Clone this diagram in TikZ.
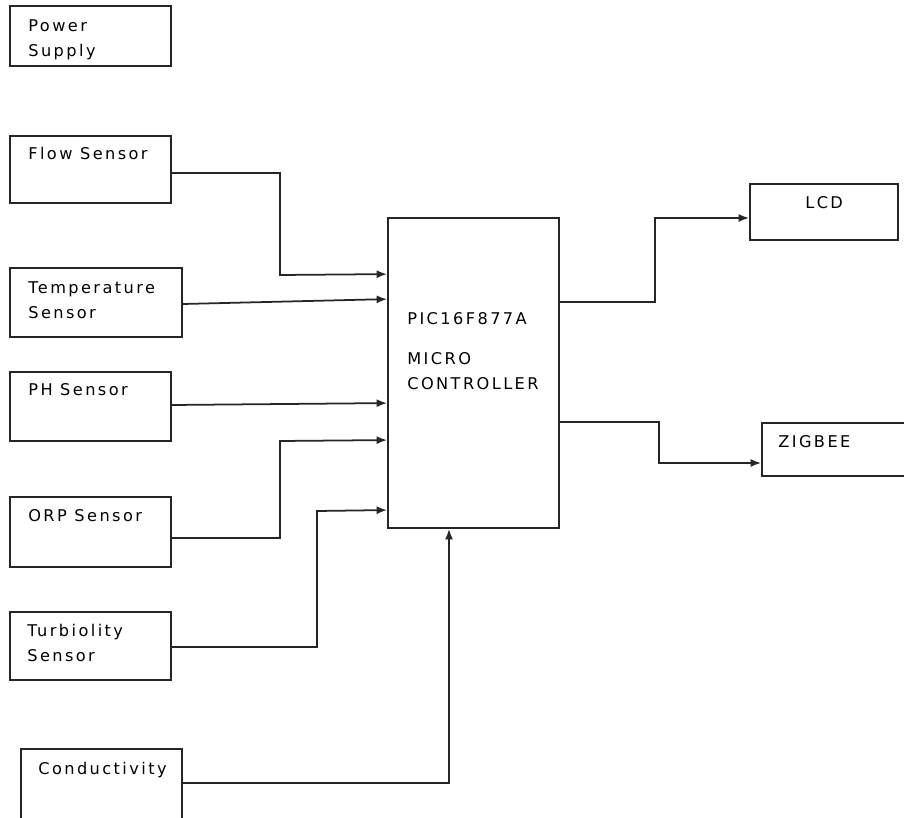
\documentclass[tikz,border=0pt]{standalone}
\usepackage{fontspec}
\setmainfont{DejaVu Sans}[LetterSpace=15]
\usetikzlibrary{arrows.meta,fit}

\tikzset{
  box/.style={draw=black!85, line width=1pt, inner sep=0pt},
  lbl/.style={anchor=north west, inner sep=0pt, align=left, text=black, font=\fontsize{9.2}{14.2}\selectfont},
  arr/.style={-{Latex[length=2.1mm,width=1.6mm]}, draw=black!85, line width=1pt}
}

\begin{document}
\begin{tikzpicture}[x=0.02cm, y=-0.02cm]
        \clip (0,0) rectangle (904,818);

        % Draw the sensor blocks on the left
        \node[box, fit={(10,6) (171,66)}] (power) {};
        \node[box, fit={(10,136) (171,203)}] (flow) {};
        \node[box, fit={(10,268) (182,337)}] (temp) {};
        \node[box, fit={(10,372) (171,441)}] (ph) {};
        \node[box, fit={(10,497) (171,567)}] (orp) {};
        \node[box, fit={(10,612) (171,680)}] (turb) {};
        \node[box, fit={(21,749) (182,840)}] (cond) {};

        % Draw the micro controller and the outputs
        \node[box, fit={(388,218) (559,528)}] (mcu) {};
        \node[box, fit={(750,184) (898,240)}] (lcd) {};
        \node[box, fit={(762,423) (930,476)}] (zigbee) {};

        % Add the texts
        \node[lbl] (powertxt) at (28,19) {Power\\Supply};
        \node[lbl] (flowtxt) at (28,147) {Flow Sensor};
        \node[lbl] (temptxt) at (28,281) {Temperature\\Sensor};
        \node[lbl] (phtxt) at (28,383) {PH Sensor};
        \node[lbl] (orptxt) at (28,509) {ORP Sensor};
        \node[lbl] (turbtxt) at (27,624) {Turbiolity\\Sensor};
        \node[lbl] (condtxt) at (38,762) {Conductivity};
        \node[lbl] (mcutxt) at (407,312) {PIC16F877A\\[0.3cm]MICRO\\CONTROLLER};
        \node[lbl] (lcdtxt) at (805,196) {LCD};
        \node[lbl] (zigbeetxt) at (778,435) {ZIGBEE};

        % Draw the inputs into the micro controller
        \draw[arr] ([yshift=-0.07cm]flow.east) -| (280,275) -- ([yshift=-1.14cm]mcu.north west);
        \draw[arr] ([yshift=-0.03cm]temp.east) -- ([yshift=-1.64cm]mcu.north west);
        \draw[arr] ([yshift=0.03cm]ph.east) -- ([yshift=-3.72cm]mcu.north west);
        \draw[arr] ([yshift=-0.12cm]orp.east) -| (280,441) -- ([yshift=-4.46cm]mcu.north west);
        \draw[arr] ([yshift=-0.02cm]turb.east) -| (317,511) -- ([yshift=-5.86cm]mcu.north west);
        \draw[arr] ([yshift=0.23cm]cond.east) -| ([xshift=-0.49cm]mcu.south);

        % Draw the outputs
        \draw[arr] ([yshift=-1.7cm]mcu.north east) -| (655,218) -- ([yshift=-0.12cm]lcd.west);
        \draw[arr] ([yshift=-4.1cm]mcu.north east) -| (659,463) -- ([yshift=-0.27cm]zigbee.west);
      \end{tikzpicture}
\end{document}
